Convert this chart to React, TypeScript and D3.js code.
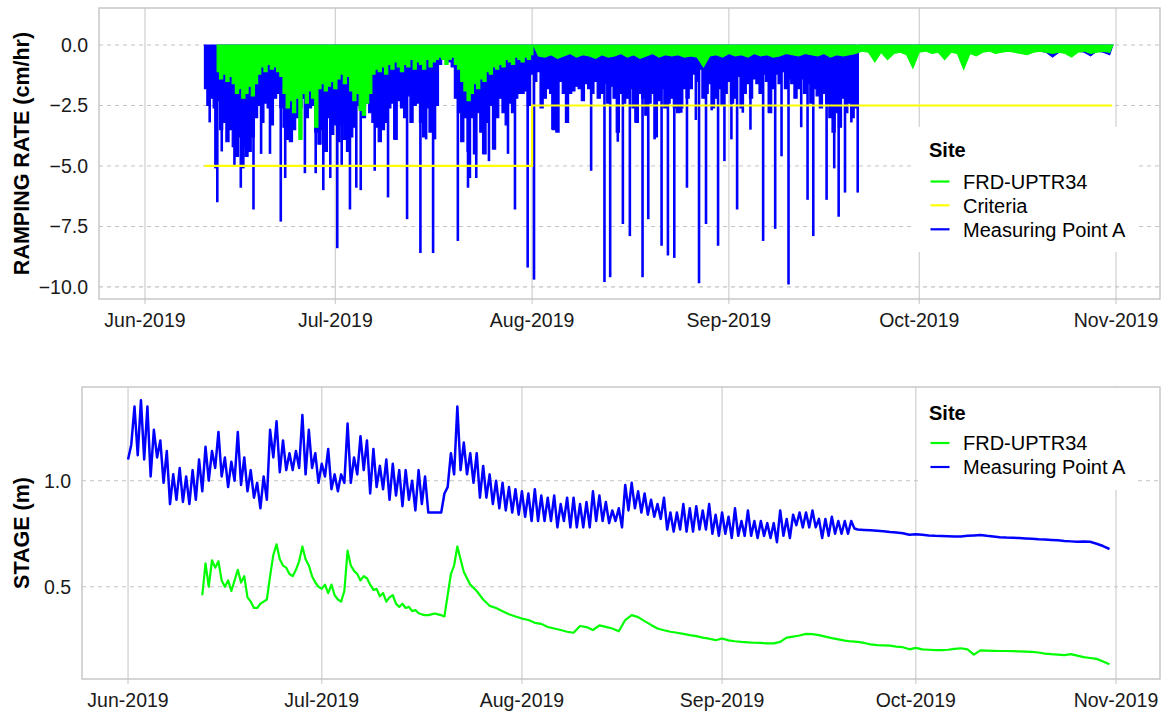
import { useEffect, useRef } from 'react';
import * as d3 from 'd3';

const W = 1168;
const H = 712;
const FONT = '"Liberation Sans", Arial, Helvetica, sans-serif';
const BLUE = '#0000ff';
const GREEN = '#00ff00';
const YELLOW = '#ffff00';

// day 0 = 1 Jun 2019
const T0 = Date.UTC(2019, 5, 1);
const day = (d: number) => new Date(T0 + d * 86400000);

const monthTicks = ['2019-06-01', '2019-07-01', '2019-08-01', '2019-09-01', '2019-10-01', '2019-11-01'];
const rampTicks = [0, -2.5, -5, -7.5, -10];
const stageTicks = [0.5, 1.0];

// ---- RAMPING RATE (cm/hr) ----
// Measuring Point A: typical drop every 12 h, from 10 Jun 12:00
const rampAStart = 9.5;
const rampA = [
  -1.8, -2.5, -2.2, -2.6, -2.3, -3.5, -3.2, -4.0, -3.5, -4.2, -4.6, -3.8, -4.2, -4.6, -4.4, -3.8, -3.0, -2.5, -3.2, -2.4,
  -2.6, -3.3, -2.2, -2.0, -2.6, -3.4, -3.9, -4.0, -3.5, -3.0, -2.6, -2.2, -3.0, -2.6, -2.5, -3.6, -4.1, -3.5, -4.4, -3.0,
  -3.7, -3.3, -4.0, -3.3, -3.9, -4.4, -3.8, -3.4, -2.5, -2.6, -3.0, -2.4, -2.8, -3.2, -3.4, -4.0, -3.5, -3.2, -2.6, -2.4,
  -3.9, -2.3, -2.6, -3.0, -2.1, -3.2, -2.5, -2.4, -3.2, -3.8, -2.6, -3.6, -2.0, -2.5, -0.8, -0.6, -0.5, -0.7, -0.9, -2.2,
  -2.8, -4.0, -3.0, -4.4, -3.0, -4.5, -2.8, -3.6, -4.5, -3.2, -2.5, -4.3, -3.0, -2.2, -2.8, -3.3, -2.4, -2.8, -2.2, -2.0,
  -2.0, -1.9, -2.5, -1.2, -1.5, -1.1, -2.6, -2.2, -1.8, -2.0, -3.5, -3.6, -1.5, -2.0, -3.2, -2.0, -1.9, -1.7, -1.8, -2.3,
  -1.6, -1.8, -2.0, -1.5, -2.2, -2.0, -1.6, -2.4, -1.7, -2.2, -3.6, -2.0, -2.4, -2.2, -1.8, -2.6, -3.2, -2.0, -2.2, -2.9,
  -2.4, -2.0, -3.8, -2.3, -1.8, -2.6, -2.4, -2.2, -2.6, -2.8, -2.6, -1.8, -2.2, -1.8, -1.2, -1.5, -1.0, -2.2, -2.0, -1.6,
  -2.6, -2.2, -1.8, -2.5, -2.0, -1.5, -2.4, -2.2, -1.3, -2.6, -2.0, -1.6, -2.2, -1.4, -1.6, -2.0, -1.2, -1.5, -2.8, -1.8,
  -1.2, -1.6, -1.1, -1.8, -1.4, -1.6, -2.2, -1.8, -1.4, -2.0, -1.6, -2.4, -1.8, -2.1, -2.6, -2.0, -2.4, -3.0, -3.6, -2.8,
  -3.4, -2.2, -2.8, -2.4, -3.0, -2.6,
];
// Measuring Point A, daily lows from 22 Sep
const rampALateStart = 113;
const rampALate = [
  -0.2, -0.25, -0.2, -0.2, -0.25, -0.2, -0.2, -0.25, -0.2, -0.2, -0.2, -0.25, -0.2, -0.2, -0.2, -0.25, -0.2, -0.2, -0.25, -0.2,
  -0.2, -0.2, -0.25, -0.2, -0.2, -0.25, -0.2, -0.2, -0.25, -0.3, -0.5, -0.3, -0.25, -0.2, -0.25, -0.3, -0.45, -0.25, -0.3, -0.4,
];
// isolated large drops of Measuring Point A: [day, cm/hr]
const rampASpikes: [number, number][] = [
  [10.2, -3.2], [11.1, -5.1], [11.4, -6.5], [12.1, -4.4], [14.1, -5.0], [15.1, -5.9], [15.5, -5.1], [17.1, -6.8],
  [18.3, -4.5], [19.7, -4.5], [21.4, -7.3], [22.1, -5.5], [25.2, -5.3], [26.9, -5.3], [28.1, -6.0], [29.2, -5.5],
  [30.3, -8.4], [31.0, -5.0], [32.3, -6.8], [33.3, -5.9], [34.0, -6.0], [36.2, -5.2], [38.3, -6.3], [39.3, -3.9],
  [41.3, -7.2], [43.4, -8.6], [44.3, -3.9], [45.4, -8.6], [45.7, -3.9], [49.3, -8.1], [50.0, -4.0], [50.9, -5.9],
  [51.2, -5.5], [52.2, -5.5], [53.3, -4.5], [54.2, -4.8], [55.1, -4.3], [57.2, -4.5], [58.3, -6.8], [60.3, -9.2],
  [61.3, -9.7], [62.5, -2.6], [64.2, -3.5], [64.9, -3.6], [66.4, -3.2], [70.3, -5.2], [72.4, -9.8], [73.3, -9.6],
  [74.5, -4.0], [75.3, -7.4], [76.4, -7.9], [77.3, -3.2], [78.4, -9.6], [79.3, -7.2], [80.3, -3.9], [81.4, -8.3],
  [82.4, -8.7], [83.4, -8.8], [84.5, -2.8], [85.4, -5.9], [86.8, -3.1], [87.3, -9.85], [88.4, -7.4], [89.3, -2.7],
  [90.3, -8.3], [91.3, -4.8], [92.4, -3.9], [93.3, -6.8], [94.2, -2.8], [95.4, -3.5], [97.4, -8.1], [98.3, -2.8],
  [99.3, -7.6], [100.3, -4.6], [101.4, -9.9], [103.4, -3.4], [104.4, -6.4], [105.3, -7.9], [107.4, -6.4], [108.6, -5.1],
  [109.3, -7.1], [110.3, -6.1], [111.3, -3.2], [112.3, -6.1],
];
// FRD-UPTR34: every 12 h from 12 Jun 12:00, then daily from 2 Aug
const rampFrdStart = 11.5;
const rampFrd = [
  -1.1, -1.4, -1.2, -1.5, -1.3, -1.6, -2.0, -1.8, -2.2, -2.0, -1.7, -2.1, -1.6, -1.2, -0.9, -1.1, -0.8, -1.0, -0.9, -1.1,
  -1.3, -2.0, -2.6, -2.3, -2.8, -2.2, -3.9, -2.0, -2.4, -1.9, -2.2, -3.4, -1.8, -1.6, -1.9, -1.7, -1.5, -1.8, -1.4, -1.2,
  -1.6, -1.3, -1.9, -2.3, -2.0, -2.7, -2.9, -2.4, -2.0, -1.2, -1.0, -1.1, -0.9, -1.2, -0.8, -1.0, -0.7, -0.9, -1.1, -0.8,
  -0.9, -0.6, -1.0, -0.7, -0.8, -1.0, -0.6, -0.9, -0.7, -0.6, -0.5, -0.6, -0.8, -0.6, -0.5, -0.8, -1.0, -1.5, -1.9, -2.3,
  -2.0, -1.6, -1.8, -1.4, -1.5, -1.1, -1.2, -0.9, -1.0, -0.8, -0.9, -0.6, -0.7, -0.8, -0.5, -0.6, -0.7, -0.5, -0.6, -0.4,
];
const rampFrdLateStart = 62;
const rampFrdLate = [
  -0.45, -0.5, -0.4, -0.55, -0.45, -0.35, -0.5, -0.4, -0.45, -0.55, -0.4, -0.5, -0.45, -0.35, -0.5, -0.4, -0.55, -0.45, -0.35, -0.5,
  -0.4, -0.45, -0.4, -0.5, -0.45, -0.5, -0.9, -0.45, -0.4, -0.5, -0.35, -0.45, -0.4, -0.5, -0.35, -0.45, -0.4, -0.5, -0.45, -0.35,
  -0.4, -0.45, -0.35, -0.4, -0.45, -0.35, -0.5, -0.4, -0.45, -0.4, -0.35, -0.25, -0.3, -0.7, -0.3, -0.6, -0.35, -0.3, -0.4, -0.95,
  -0.3, -0.25, -0.35, -0.3, -0.6, -0.3, -0.35, -1.0, -0.35, -0.45, -0.3, -0.25, -0.35, -0.3, -0.25, -0.3, -0.35, -0.4, -0.3, -0.25,
  -0.3, -0.35, -0.3, -0.35, -0.5, -0.3, -0.25, -0.35, -0.3, -0.25, -0.3,
];
const criteriaDays = [9.4, 61, 61, 152.4];
const criteriaVals = [-5, -5, -2.5, -2.5];

// ---- STAGE (m) ----
// Measuring Point A: every 12 h from 1 Jun, then daily from 22 Sep
const stageAStart = 0;
const stageA = [
  1.10, 1.17, 1.35, 1.12, 1.38, 1.10, 1.35, 1.02, 1.24, 1.11, 1.19, 0.99, 1.14, 0.89, 1.03, 0.91, 1.06, 0.90, 1.02, 0.89,
  1.05, 0.91, 1.10, 0.95, 1.16, 1.00, 1.14, 1.06, 1.23, 1.02, 1.11, 0.97, 1.09, 1.00, 1.23, 0.98, 1.11, 0.95, 1.05, 0.92,
  0.99, 0.87, 1.02, 0.91, 1.24, 1.11, 1.28, 1.04, 1.19, 1.05, 1.13, 1.05, 1.14, 1.06, 1.31, 1.03, 1.24, 1.06, 1.13, 0.99,
  1.08, 1.02, 1.15, 0.96, 1.03, 0.95, 1.03, 0.99, 1.27, 0.99, 1.11, 1.03, 1.21, 1.05, 1.19, 0.94, 1.15, 0.97, 1.07, 0.96,
  1.10, 0.91, 1.08, 0.93, 1.05, 0.88, 1.05, 0.91, 1.00, 0.86, 1.05, 0.89, 1.02, 0.85, 0.85, 0.85, 0.85, 0.85, 0.94, 0.97,
  1.13, 1.03, 1.35, 1.05, 1.18, 1.03, 1.13, 0.99, 1.13, 0.92, 1.07, 0.92, 1.03, 0.89, 1.00, 0.87, 0.99, 0.86, 0.97, 0.85,
  0.96, 0.84, 0.95, 0.83, 0.94, 0.81, 0.96, 0.81, 0.93, 0.81, 0.92, 0.81, 0.93, 0.78, 0.89, 0.81, 0.92, 0.78, 0.92, 0.78,
  0.89, 0.78, 0.90, 0.78, 0.95, 0.81, 0.93, 0.81, 0.90, 0.80, 0.86, 0.81, 0.87, 0.78, 0.98, 0.86, 0.99, 0.87, 0.95, 0.85,
  0.94, 0.84, 0.91, 0.83, 0.89, 0.82, 0.92, 0.77, 0.85, 0.76, 0.85, 0.77, 0.89, 0.76, 0.87, 0.76, 0.88, 0.77, 0.86, 0.77,
  0.89, 0.75, 0.84, 0.74, 0.85, 0.75, 0.83, 0.73, 0.87, 0.74, 0.81, 0.74, 0.86, 0.74, 0.81, 0.73, 0.81, 0.74, 0.80, 0.73,
  0.80, 0.71, 0.86, 0.74, 0.82, 0.73, 0.84, 0.79, 0.85, 0.78, 0.85, 0.78, 0.86, 0.78, 0.82, 0.73, 0.82, 0.74, 0.83, 0.75,
  0.81, 0.75, 0.81, 0.75, 0.81, 0.775,
];
const stageALateStart = 113;
const stageALate = [
  0.770, 0.768, 0.766, 0.764, 0.762, 0.758, 0.756, 0.752, 0.745, 0.748, 0.745, 0.742, 0.740, 0.739, 0.738, 0.737, 0.737, 0.740, 0.742, 0.744,
  0.740, 0.737, 0.734, 0.732, 0.731, 0.730, 0.728, 0.726, 0.724, 0.723, 0.721, 0.719, 0.716, 0.714, 0.712, 0.713, 0.712, 0.703, 0.692, 0.678,
];
// FRD-UPTR34: every 12 h from 12 Jun 12:00, then daily from 23 Jul
const stageFrdStart = 11.5;
const stageFrd = [
  0.46, 0.61, 0.50, 0.625, 0.59, 0.62, 0.53, 0.50, 0.53, 0.48, 0.53, 0.58, 0.52, 0.55, 0.45, 0.43, 0.40, 0.40, 0.42, 0.43,
  0.44, 0.55, 0.65, 0.70, 0.63, 0.60, 0.59, 0.56, 0.55, 0.58, 0.62, 0.69, 0.63, 0.60, 0.55, 0.52, 0.50, 0.49, 0.51, 0.47,
  0.51, 0.46, 0.44, 0.43, 0.48, 0.67, 0.60, 0.575, 0.56, 0.53, 0.55, 0.54, 0.51, 0.485, 0.49, 0.455, 0.47, 0.43, 0.45, 0.46,
  0.42, 0.405, 0.42, 0.40, 0.405, 0.385, 0.39, 0.375, 0.37, 0.366, 0.366, 0.37, 0.374, 0.37, 0.366, 0.36, 0.46, 0.56, 0.60, 0.69,
  0.63, 0.57,
];
const stageFrdLateStart = 53;
const stageFrdLate = [
  0.51, 0.48, 0.44, 0.41, 0.40, 0.385, 0.37, 0.36, 0.35, 0.343, 0.33, 0.325, 0.31, 0.303, 0.296, 0.288, 0.283, 0.315, 0.31, 0.296,
  0.318, 0.311, 0.303, 0.29, 0.343, 0.366, 0.357, 0.338, 0.32, 0.303, 0.295, 0.288, 0.283, 0.278, 0.272, 0.267, 0.26, 0.255, 0.248, 0.256,
  0.247, 0.243, 0.24, 0.238, 0.236, 0.235, 0.233, 0.233, 0.24, 0.26, 0.265, 0.27, 0.278, 0.277, 0.272, 0.265, 0.258, 0.252, 0.246, 0.242,
  0.24, 0.235, 0.228, 0.225, 0.224, 0.222, 0.218, 0.215, 0.205, 0.212, 0.205, 0.203, 0.201, 0.201, 0.203, 0.207, 0.21, 0.205, 0.18, 0.2,
  0.199, 0.198, 0.197, 0.197, 0.196, 0.195, 0.194, 0.193, 0.19, 0.185, 0.182, 0.18, 0.178, 0.182, 0.175, 0.168, 0.164, 0.16, 0.148, 0.135,
];

type Pt = { t: Date; v: number };

const series = (start: number, step: number, vals: number[]): Pt[] =>
  vals.map((v, i) => ({ t: day(start + i * step), v }));

// lows of the ramping rate, closed back to 0 at both ends so the swing band can be filled
const band = (start: number, step: number, vals: number[], lead = step / 2): Pt[] => [
  { t: day(start - lead), v: 0 },
  ...series(start, step, vals),
  { t: day(start + (vals.length - 0.5) * step), v: 0 },
];

interface PanelOpts {
  left: number;
  right: number;
  top: number;
  bottom: number;
  x: d3.ScaleTime<number, number>;
  y: d3.ScaleLinear<number, number>;
  yTicks: number[];
  title: string;
}

type Svg = d3.Selection<SVGSVGElement, unknown, null, undefined>;

function drawFrame(svg: Svg, o: PanelOpts) {
  const g = svg.append('g');
  const parse = d3.utcParse('%Y-%m-%d');
  const fmt = d3.utcFormat('%b-%Y');
  const months = monthTicks.map((s) => parse(s)!);

  // vertical major grid
  g.selectAll('.vg')
    .data(months)
    .join('line')
    .attr('x1', (d) => o.x(d))
    .attr('x2', (d) => o.x(d))
    .attr('y1', o.top)
    .attr('y2', o.bottom + 5)
    .attr('stroke', '#d2d2d2')
    .attr('stroke-width', 1.3);

  // horizontal dashed grid
  g.selectAll('.hg')
    .data(o.yTicks)
    .join('line')
    .attr('x1', o.left)
    .attr('x2', o.right)
    .attr('y1', (d) => o.y(d))
    .attr('y2', (d) => o.y(d))
    .attr('stroke', '#c4c4c4')
    .attr('stroke-width', 1.1)
    .attr('stroke-dasharray', '4,4');

  g.selectAll('.xl')
    .data(months)
    .join('text')
    .attr('x', (d) => o.x(d))
    .attr('y', o.bottom + 28)
    .attr('text-anchor', 'middle')
    .attr('font-family', FONT)
    .attr('font-size', 19.5)
    .attr('fill', '#1a1a1a')
    .text((d) => fmt(d));

  g.selectAll('.yl')
    .data(o.yTicks)
    .join('text')
    .attr('x', o.left - 11)
    .attr('y', (d) => o.y(d) + 7)
    .attr('text-anchor', 'end')
    .attr('font-family', FONT)
    .attr('font-size', 19.5)
    .attr('fill', '#1a1a1a')
    .text((d) => d3.format('.1f')(d));

  svg
    .append('text')
    .attr('transform', `translate(28.5,${(o.top + o.bottom) / 2}) rotate(-90)`)
    .attr('text-anchor', 'middle')
    .attr('font-family', FONT)
    .attr('font-size', 21.5)
    .attr('font-weight', 'bold')
    .attr('fill', '#000')
    .text(o.title);
}

function drawBorder(svg: Svg, o: PanelOpts) {
  svg
    .append('rect')
    .attr('x', o.left)
    .attr('y', o.top)
    .attr('width', o.right - o.left)
    .attr('height', o.bottom - o.top)
    .attr('fill', 'none')
    .attr('stroke', '#c4c4c4')
    .attr('stroke-width', 1.4);
}

function drawLegend(
  svg: Svg,
  box: [number, number, number, number],
  titleY: number,
  items: { label: string; color: string; y: number }[],
) {
  const g = svg.append('g');
  g.append('rect')
    .attr('x', box[0])
    .attr('y', box[1])
    .attr('width', box[2])
    .attr('height', box[3])
    .attr('fill', '#fff');
  g.append('text')
    .attr('x', 929)
    .attr('y', titleY)
    .attr('font-family', FONT)
    .attr('font-size', 20)
    .attr('font-weight', 'bold')
    .text('Site');
  items.forEach((it) => {
    g.append('line')
      .attr('x1', 930.5)
      .attr('x2', 949.5)
      .attr('y1', it.y)
      .attr('y2', it.y)
      .attr('stroke', it.color)
      .attr('stroke-width', 2.2);
    g.append('text')
      .attr('x', 963)
      .attr('y', it.y + 7.3)
      .attr('font-family', FONT)
      .attr('font-size', 20)
      .attr('fill', '#000')
      .text(it.label);
  });
}

export default function App() {
  const svgRef = useRef<SVGSVGElement>(null);

  useEffect(() => {
    if (!svgRef.current) return;
    const svg = d3.select(svgRef.current);
    svg.selectAll('*').remove();

    // ---------- top panel: ramping rate ----------
    const top: PanelOpts = {
      left: 99,
      right: 1160,
      top: 8,
      bottom: 299,
      x: d3.scaleUtc().domain([day(-7.24), day(159.93)]).range([99, 1160]),
      y: d3.scaleLinear().domain([-10.5, 1.53]).range([299, 8]),
      yTicks: rampTicks,
      title: 'RAMPING RATE (cm/hr)',
    };
    drawFrame(svg, top);

    const lineTop = d3
      .line<Pt>()
      .x((d) => top.x(d.t))
      .y((d) => top.y(d.v));

    const plotTop = svg.append('g');
    const fillBand = (pts: Pt[], color: string, curve: d3.CurveFactory) => {
      const area = d3
        .area<Pt>()
        .curve(curve)
        .x((d) => top.x(d.t))
        .y0(top.y(0))
        .y1((d) => top.y(d.v));
      plotTop
        .append('path')
        .attr('d', area(pts))
        .attr('fill', color)
        .attr('stroke', color)
        .attr('stroke-width', 1.2)
        .attr('stroke-linejoin', 'miter');
    };

    fillBand(band(rampAStart, 0.5, rampA), BLUE, d3.curveStep);
    fillBand(band(rampALateStart, 1, rampALate), BLUE, d3.curveLinear);
    plotTop
      .selectAll('.spike')
      .data(rampASpikes)
      .join('line')
      .attr('x1', (d) => top.x(day(d[0])))
      .attr('x2', (d) => top.x(day(d[0])))
      .attr('y1', top.y(0))
      .attr('y2', (d) => top.y(d[1]))
      .attr('stroke', BLUE)
      .attr('stroke-width', 2.6);

    fillBand(band(rampFrdStart, 0.5, rampFrd), GREEN, d3.curveStep);
    // late series opens where the 12-hourly one closes, so no gap shows at 1 Aug
    fillBand(band(rampFrdLateStart, 1, rampFrdLate, 0.8), GREEN, d3.curveLinear);

    plotTop
      .append('path')
      .attr('d', lineTop(criteriaDays.map((d, i) => ({ t: day(d), v: criteriaVals[i] }))))
      .attr('fill', 'none')
      .attr('stroke', YELLOW)
      .attr('stroke-width', 2.2);

    drawBorder(svg, top);
    drawLegend(svg, [912, 127, 224, 125], 157, [
      { label: 'FRD-UPTR34', color: GREEN, y: 181.5 },
      { label: 'Criteria', color: YELLOW, y: 205.3 },
      { label: 'Measuring Point A', color: BLUE, y: 229.3 },
    ]);

    // ---------- bottom panel: stage ----------
    const bot: PanelOpts = {
      left: 82,
      right: 1160,
      top: 387,
      bottom: 679,
      x: d3.scaleUtc().domain([day(-7.13), day(159.82)]).range([82, 1160]),
      y: d3.scaleLinear().domain([0.065, 1.442]).range([679, 387]),
      yTicks: stageTicks,
      title: 'STAGE (m)',
    };
    drawFrame(svg, bot);

    const lineBot = d3
      .line<Pt>()
      .x((d) => bot.x(d.t))
      .y((d) => bot.y(d.v));

    const plotBot = svg.append('g');
    plotBot
      .append('path')
      .attr('d', lineBot([...series(stageFrdStart, 0.5, stageFrd), ...series(stageFrdLateStart, 1, stageFrdLate)]))
      .attr('fill', 'none')
      .attr('stroke', GREEN)
      .attr('stroke-width', 2.2)
      .attr('stroke-linejoin', 'round');
    plotBot
      .append('path')
      .attr('d', lineBot([...series(stageAStart, 0.5, stageA), ...series(stageALateStart, 1, stageALate)]))
      .attr('fill', 'none')
      .attr('stroke', BLUE)
      .attr('stroke-width', 2.5)
      .attr('stroke-linejoin', 'round');

    drawBorder(svg, bot);
    drawLegend(svg, [918, 388, 218, 102], 420, [
      { label: 'FRD-UPTR34', color: GREEN, y: 443 },
      { label: 'Measuring Point A', color: BLUE, y: 467 },
    ]);
  }, []);

  return (
    <svg
      ref={svgRef}
      width={W}
      height={H}
      style={{ position: 'absolute', left: 0, top: 0, background: '#fff' }}
    />
  );
}
